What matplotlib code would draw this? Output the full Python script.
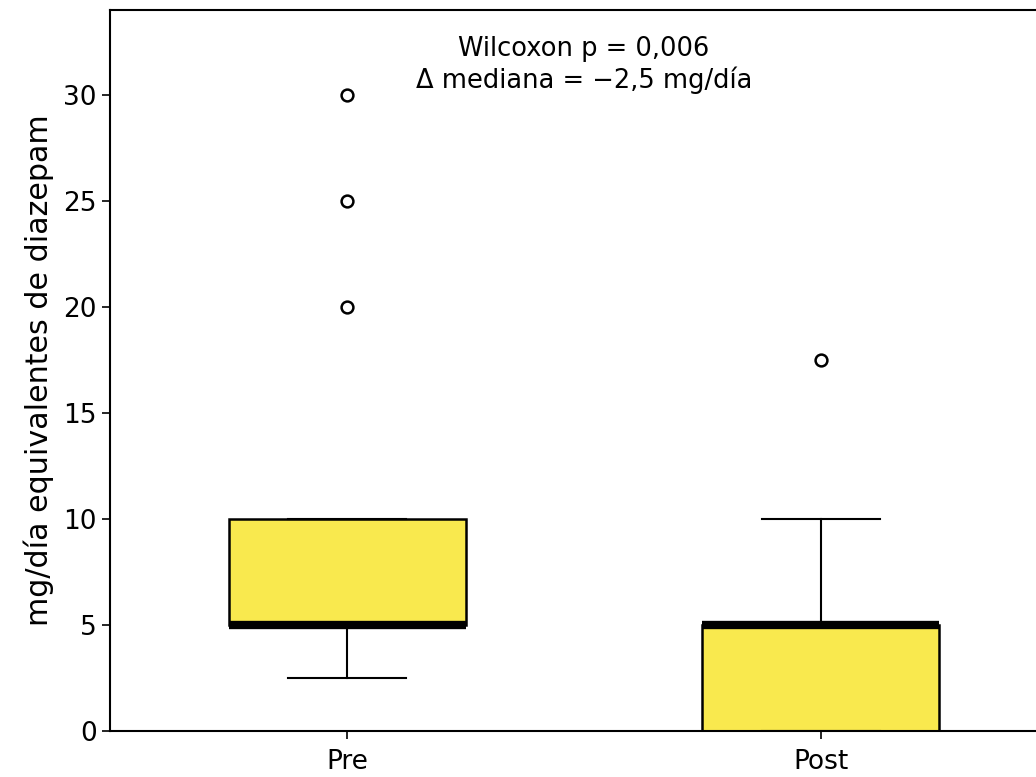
import matplotlib
matplotlib.use("Agg")
import matplotlib.pyplot as plt

# summary statistics per group (mg/day diazepam equivalents)
groups = ["Pre", "Post"]
q1 = [5.0, 0.0]
median = [5.0, 5.0]
q3 = [10.0, 5.0]
whisker_low = [2.5, 0.0]
whisker_high = [10.0, 10.0]
outliers = [[20.0, 25.0, 30.0], [17.5]]

stats = []
for i, name in enumerate(groups):
    stats.append({
        "label": name,
        "q1": q1[i],
        "med": median[i],
        "q3": q3[i],
        "whislo": whisker_low[i],
        "whishi": whisker_high[i],
        "fliers": outliers[i],
    })

fig = plt.figure(figsize=(10.36, 7.77), dpi=100)
ax = fig.add_axes([0.1062, 0.0592, 0.915, 0.928])

ax.bxp(
    stats,
    widths=0.5,
    patch_artist=True,
    boxprops=dict(facecolor="#f9e94e", edgecolor="black", linewidth=1.8),
    medianprops=dict(color="black", linewidth=6),
    whiskerprops=dict(color="black", linewidth=1.5),
    capprops=dict(color="black", linewidth=1.5),
    flierprops=dict(marker="o", markerfacecolor="white", markeredgecolor="black",
                    markersize=8.5, markeredgewidth=1.8),
)

ax.set_xlim(0.5, 2.5)
ax.set_ylim(0, 34)
ax.set_ylabel("mg/día equivalentes de diazepam", fontsize=21.7, labelpad=7)
ax.tick_params(axis="both", labelsize=19, length=6, width=1.2)
ax.tick_params(axis="x", pad=7)
for s in ax.spines.values():
    s.set_linewidth(1.5)

ax.text(0.5, 0.964, "Wilcoxon p = 0,006\n\u0394 mediana = \u22122,5 mg/día",
        transform=ax.transAxes, ha="center", va="top", fontsize=18.5)

fig.savefig("out.png", dpi=100)
